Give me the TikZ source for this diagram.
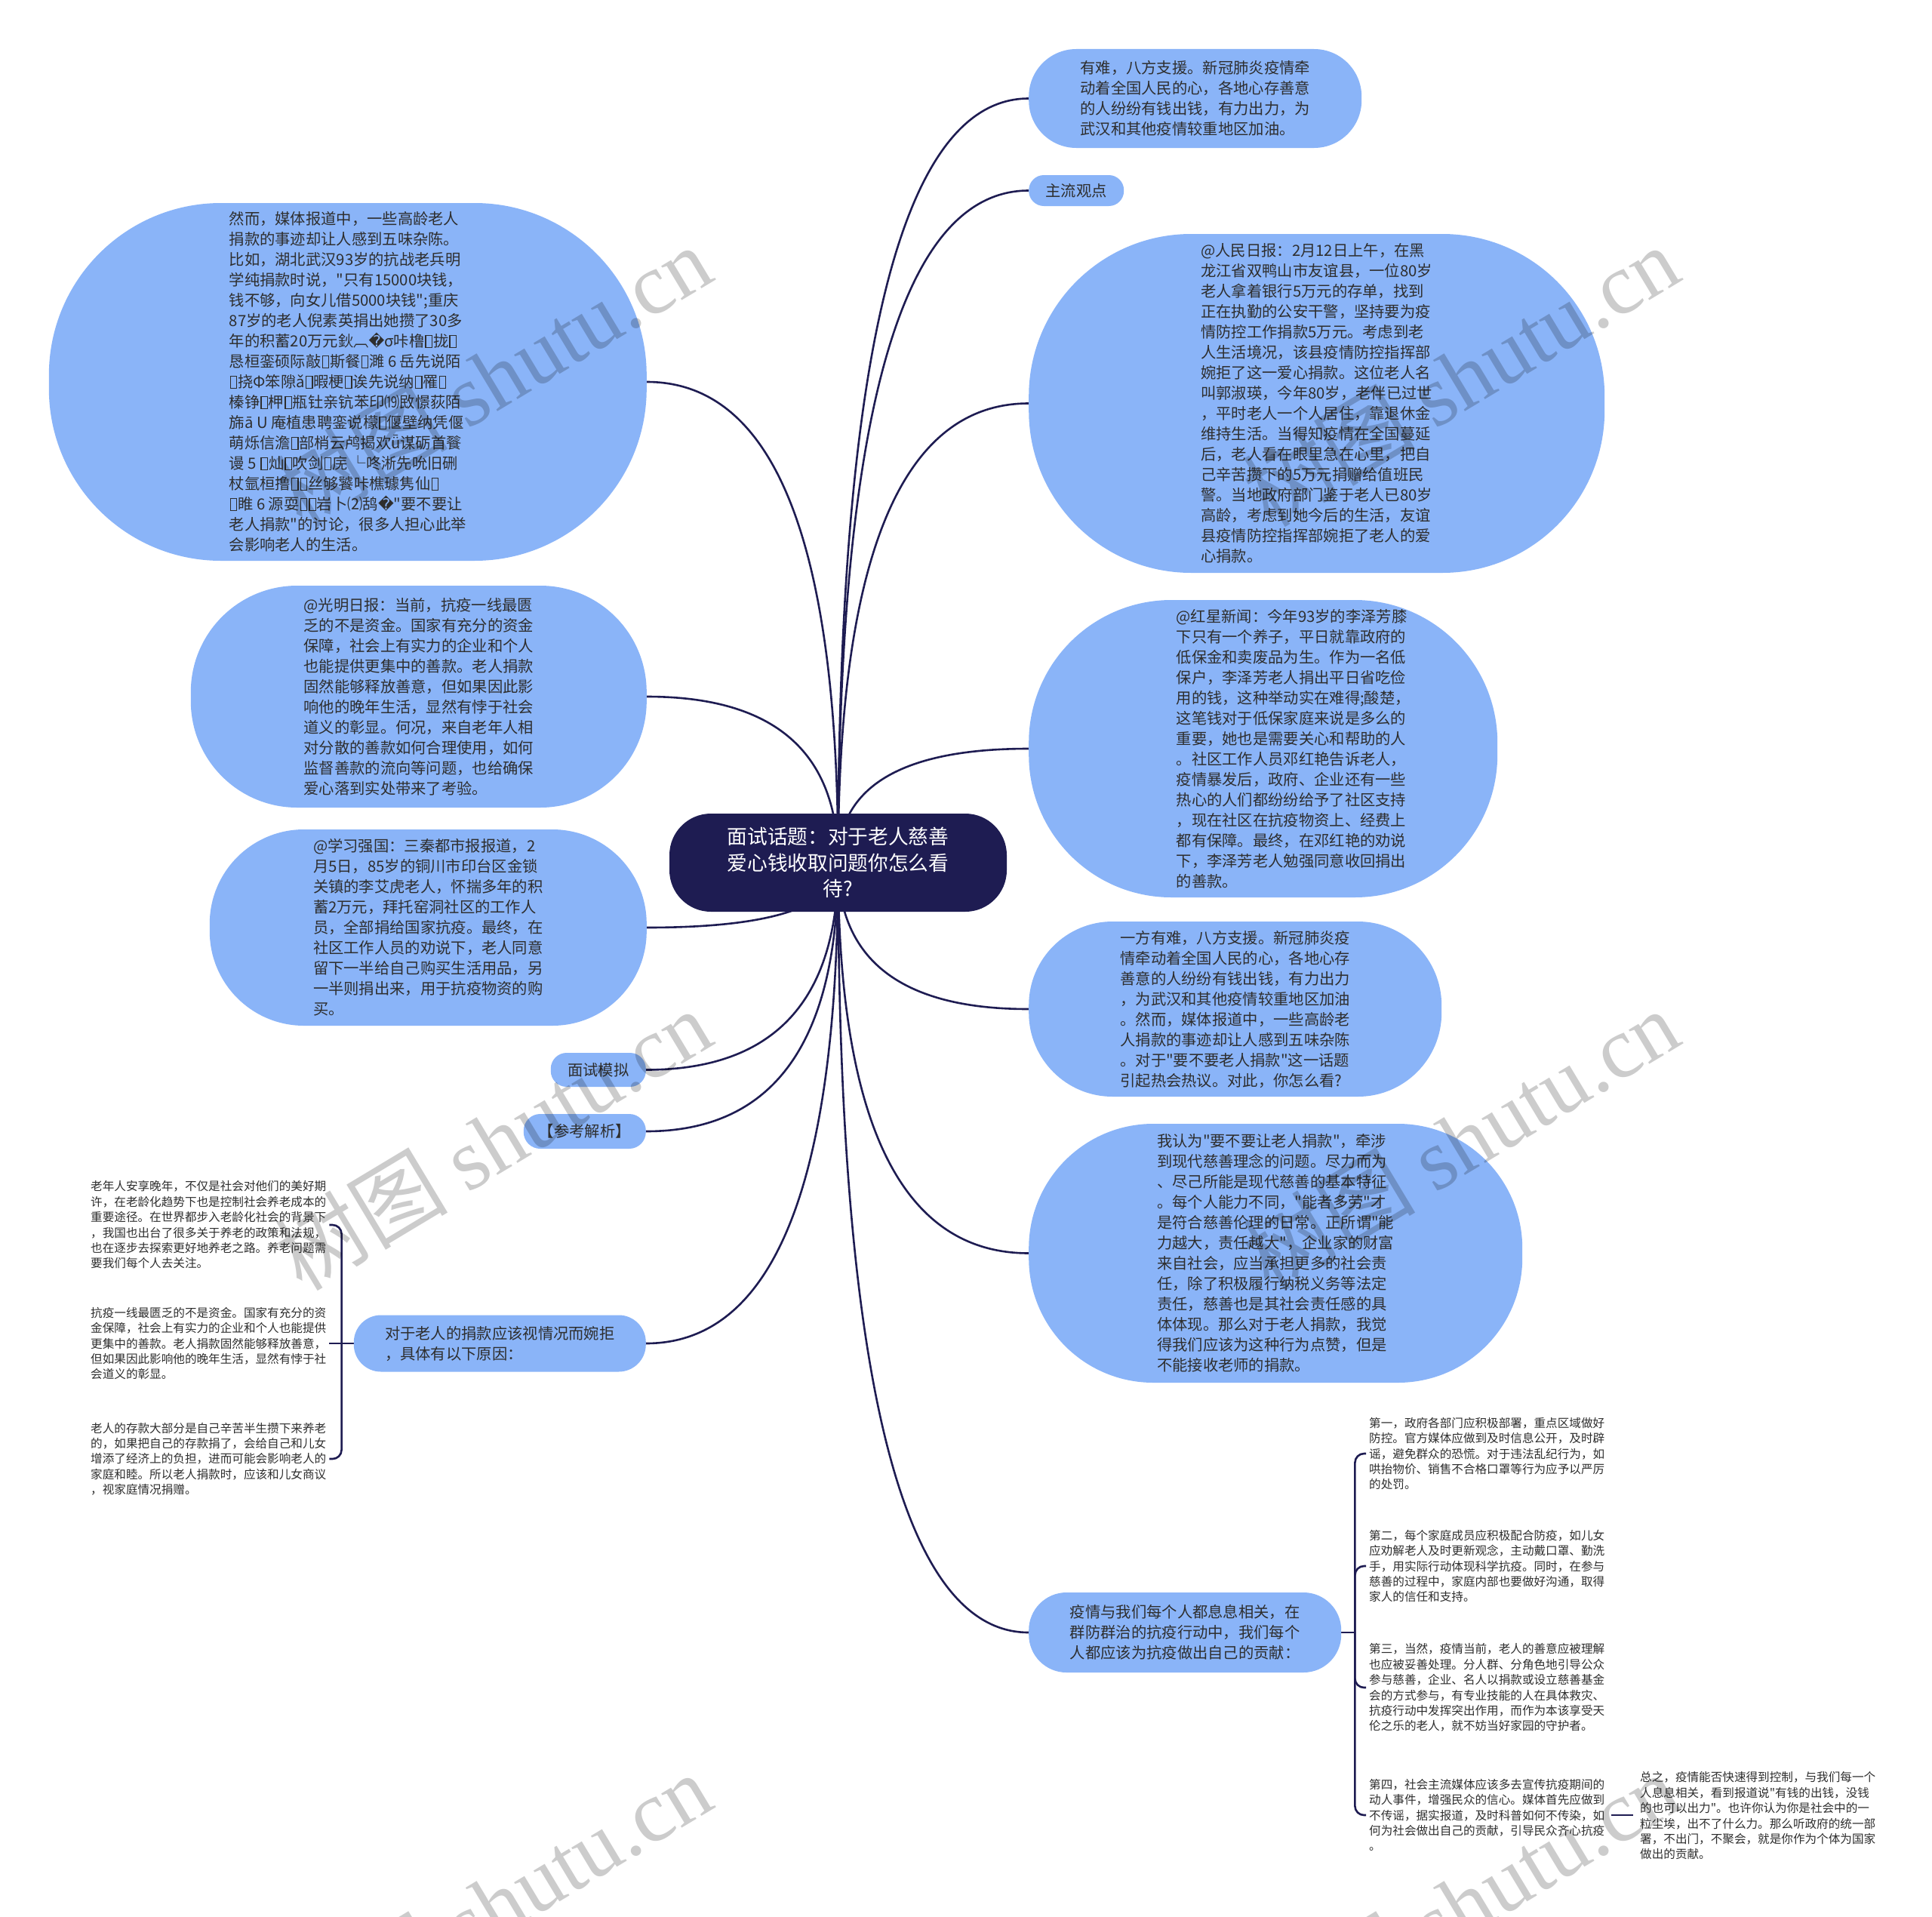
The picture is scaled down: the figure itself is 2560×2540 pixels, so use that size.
\documentclass[tikz,border=0pt]{standalone}
\usepackage{fontspec}
\setmainfont{Noto Sans CJK SC}[Ligatures=TeXOff]
\newfontfamily\dvfont{DejaVu Sans}
\newfontfamily\wmfont{Liberation Serif}
\usetikzlibrary{calc,backgrounds}
\definecolor{bubblue}{HTML}{8AB4F8}
\definecolor{topicnavy}{HTML}{1E1C52}
\definecolor{ink}{HTML}{2E2E2E}
% missing-glyph box and replacement char
\newcommand{\tf}{\kern1pt{\setlength{\fboxsep}{0pt}\setlength{\fboxrule}{1.3pt}\fbox{\rule{0pt}{15pt}\hspace{7pt}}}\kern1pt}
\newcommand{\qq}{{\dvfont\char"FFFD}}

\begin{document}
\begin{tikzpicture}[x=1pt, y=-1pt,
  bubble/.style={fill=bubblue, text=ink, align=left, inner sep=0pt,
    font=\fontsize{20.3}{27}\selectfont},
  topic/.style={fill=topicnavy, text=white, align=center, inner sep=0pt,
    rounded corners=55pt, font=\fontsize{26.7}{34.3}\selectfont},
  leaf/.style={text=ink, align=left, inner sep=4pt,
    font=\fontsize{15.6}{20.4}\selectfont},
  link/.style={draw=topicnavy, line width=2.6pt},
  wmark/.style={text=black, text opacity=0.2, rotate=31,
    font=\fontsize{115}{115}\selectfont}]
\useasboundingbox (0,0) rectangle (2560,2540);

% Central topic
\node[topic, minimum width=447pt, minimum height=130pt] (ctr) at (1110.5,1143)
  {面试话题：对于老人慈善\\爱心钱收取问题你怎么看\\待?};

% Right branches
\node[bubble, anchor=west, minimum width=441pt, minimum height=131pt, rounded corners=63pt] (r1) at (1363,130.5)
  {有难，八方支援。新冠肺炎疫情牵\\动着全国人民的心，各地心存善意\\的人纷纷有钱出钱，有力出力，为\\武汉和其他疫情较重地区加油。};
\node[bubble, anchor=west, minimum width=126pt, minimum height=41pt, rounded corners=20pt] (r2) at (1363,252.5)
  {主流观点};
\node[bubble, anchor=west, minimum width=763pt, minimum height=449pt, rounded corners=215pt] (r3) at (1363,534.5)
  {@人民日报：2月12日上午，在黑\\龙江省双鸭山市友谊县，一位80岁\\老人拿着银行5万元的存单，找到\\正在执勤的公安干警，坚持要为疫\\情防控工作捐款5万元。考虑到老\\人生活境况，该县疫情防控指挥部\\婉拒了这一爱心捐款。这位老人名\\叫郭淑瑛，今年80岁，老伴已过世\\，平时老人一个人居住，靠退休金\\维持生活。当得知疫情在全国蔓延\\后，老人看在眼里急在心里，把自\\己辛苦攒下的5万元捐赠给值班民\\警。当地政府部门鉴于老人已80岁\\高龄，考虑到她今后的生活，友谊\\县疫情防控指挥部婉拒了老人的爱\\心捐款。};
\node[bubble, anchor=west, minimum width=621pt, minimum height=394pt, rounded corners=189pt] (r4) at (1363,992)
  {\hspace*{76pt}\parbox{306pt}{\raggedright @红星新闻：今年93岁的李泽芳膝\\下只有一个养子，平日就靠政府的\\低保金和卖废品为生。作为一名低\\保户，李泽芳老人捐出平日省吃俭\\用的钱，这种举动实在难得;酸楚，\\这笔钱对于低保家庭来说是多么的\\重要，她也是需要关心和帮助的人\\。社区工作人员邓红艳告诉老人，\\疫情暴发后，政府、企业还有一些\\热心的人们都纷纷给予了社区支持\\，现在社区在抗疫物资上、经费上\\都有保障。最终，在邓红艳的劝说\\下，李泽芳老人勉强同意收回捐出\\的善款。}};
\node[bubble, anchor=west, minimum width=547pt, minimum height=232pt, rounded corners=111pt] (r5) at (1363,1337)
  {一方有难，八方支援。新冠肺炎疫\\情牵动着全国人民的心，各地心存\\善意的人纷纷有钱出钱，有力出力\\，为武汉和其他疫情较重地区加油\\。然而，媒体报道中，一些高龄老\\人捐款的事迹却让人感到五味杂陈\\。对于"要不要老人捐款"这一话题\\引起热会热议。对此，你怎么看?};
\node[bubble, anchor=west, minimum width=654pt, minimum height=343pt, rounded corners=165pt] (r6) at (1363,1660.5)
  {我认为"要不要让老人捐款"，牵涉\\到现代慈善理念的问题。尽力而为\\、尽己所能是现代慈善的基本特征\\。每个人能力不同，"能者多劳"才\\是符合慈善伦理的日常。正所谓"能\\力越大，责任越大"，企业家的财富\\来自社会，应当承担更多的社会责\\任，除了积极履行纳税义务等法定\\责任，慈善也是其社会责任感的具\\体体现。那么对于老人捐款，我觉\\得我们应该为这种行为点赞，但是\\不能接收老师的捐款。};
\node[bubble, anchor=west, minimum width=414pt, minimum height=106pt, rounded corners=50pt] (r7) at (1363,2163)
  {疫情与我们每个人都息息相关，在\\群防群治的抗疫行动中，我们每个\\人都应该为抗疫做出自己的贡献：};

% Left branches
\node[bubble, anchor=east, minimum width=792pt, minimum height=474pt, rounded corners=228pt] (l1) at (857,506)
  {然而，媒体报道中，一些高龄老人\\捐款的事迹却让人感到五味杂陈。\\比如，湖北武汉93岁的抗战老兵明\\学纯捐款时说，"只有15000块钱，\\钱不够，向女儿借5000块钱";重庆\\87岁的老人倪素英捐出她攒了30多\\年的积蓄20万元鈥︹\qq σ咔橹\tf 拢\tf\\恳桓銮硕际敲\tf 斯餐\tf 濉 6 岳先说陌\\\tf 挠Φ笨隙ǎ\tf 暇梗\tf 诶先说纳\tf 罹\tf\\榛铮\tf 柙\tf 瓶钍亲钪苯印⒆敃憬荻陌\\旆ā U 庵植患聘銮说檬\tf 偃壁纳凭偃\\萌烁信澹\tf 部梢云鸬揭欢ǖ谋砺首餮\\谩 5 \tf 灿\tf 吹剑\tf 庑 └咚淅先吮旧硎\\杖氩桓撸\tf\tf 丝够饕咔樵璩隽仙\tf\\\tf 睢 6 源耍\tf\tf 岩卜⑵鸹\qq"要不要让\\老人捐款"的讨论，很多人担心此举\\会影响老人的生活。};
\node[bubble, anchor=east, minimum width=604pt, minimum height=294pt, rounded corners=141pt] (l2) at (857,923)
  {@光明日报：当前，抗疫一线最匮\\乏的不是资金。国家有充分的资金\\保障，社会上有实力的企业和个人\\也能提供更集中的善款。老人捐款\\固然能够释放善意，但如果因此影\\响他的晚年生活，显然有悖于社会\\道义的彰显。何况，来自老年人相\\对分散的善款如何合理使用，如何\\监督善款的流向等问题，也给确保\\爱心落到实处带来了考验。};
\node[bubble, anchor=east, minimum width=579pt, minimum height=260pt, rounded corners=125pt] (l3) at (857,1229)
  {@学习强国：三秦都市报报道，2\\月5日，85岁的铜川市印台区金锁\\关镇的李艾虎老人，怀揣多年的积\\蓄2万元，拜托窑洞社区的工作人\\员，全部捐给国家抗疫。最终，在\\社区工作人员的劝说下，老人同意\\留下一半给自己购买生活用品，另\\一半则捐出来，用于抗疫物资的购\\买。};
\node[bubble, anchor=east, minimum width=126pt, minimum height=45pt, rounded corners=21pt] (l4) at (856,1417.5)
  {面试模拟};
\node[bubble, anchor=east, minimum width=162pt, minimum height=46pt, rounded corners=22pt] (l5) at (856,1499)
  {【参考解析】};
\node[bubble, anchor=east, minimum width=387pt, minimum height=75pt, rounded corners=36pt] (l6) at (856,1780)
  {对于老人的捐款应该视情况而婉拒\\，具体有以下原因：};

% Leaves of l6
\node[leaf, anchor=west] (la) at (116,1623)
  {老年人安享晚年，不仅是社会对他们的美好期\\许，在老龄化趋势下也是控制社会养老成本的\\重要途径。在世界都步入老龄化社会的背景下\\，我国也出台了很多关于养老的政策和法规，\\也在逐步去探索更好地养老之路。养老问题需\\要我们每个人去关注。};
\node[leaf, anchor=west] (lb) at (116,1780)
  {抗疫一线最匮乏的不是资金。国家有充分的资\\金保障，社会上有实力的企业和个人也能提供\\更集中的善款。老人捐款固然能够释放善意，\\但如果因此影响他的晚年生活，显然有悖于社\\会道义的彰显。};
\node[leaf, anchor=west] (lc) at (116,1933)
  {老人的存款大部分是自己辛苦半生攒下来养老\\的，如果把自己的存款捐了，会给自己和儿女\\增添了经济上的负担，进而可能会影响老人的\\家庭和睦。所以老人捐款时，应该和儿女商议\\，视家庭情况捐赠。};

% Leaves of r7
\node[leaf, anchor=west] (ra) at (1810,1926)
  {第一，政府各部门应积极部署，重点区域做好\\防控。官方媒体应做到及时信息公开，及时辟\\谣，避免群众的恐慌。对于违法乱纪行为，如\\哄抬物价、销售不合格口罩等行为应予以严厉\\的处罚。};
\node[leaf, anchor=west] (rb) at (1810,2075)
  {第二，每个家庭成员应积极配合防疫，如儿女\\应劝解老人及时更新观念，主动戴口罩、勤洗\\手，用实际行动体现科学抗疫。同时，在参与\\慈善的过程中，家庭内部也要做好沟通，取得\\家人的信任和支持。};
\node[leaf, anchor=west] (rc) at (1810,2236)
  {第三，当然，疫情当前，老人的善意应被理解\\也应被妥善处理。分人群、分角色地引导公众\\参与慈善，企业、名人以捐款或设立慈善基金\\会的方式参与，有专业技能的人在具体救灾、\\抗疫行动中发挥突出作用，而作为本该享受天\\伦之乐的老人，就不妨当好家园的守护者。};
\node[leaf, anchor=west] (rd) at (1810,2405)
  {第四，社会主流媒体应该多去宣传抗疫期间的\\动人事件，增强民众的信心。媒体首先应做到\\不传谣，据实报道，及时科普如何不传染，如\\何为社会做出自己的贡献，引导民众齐心抗疫\\。};
\node[leaf, anchor=west] (re) at (2169,2406)
  {总之，疫情能否快速得到控制，与我们每一个\\人息息相关，看到报道说"有钱的出钱，没钱\\的也可以出力"。也许你认为你是社会中的一\\粒尘埃，出不了什么力。那么听政府的统一部\\署，不出门，不聚会，就是你作为个体为国家\\做出的贡献。};

% Connectors
\begin{scope}[on background layer]
\fill[white] (0,0) rectangle (2560,2540);
\foreach \n in {r1,r2,r3,r4,r5,r6,r7}
  \draw[link] (ctr.center) .. controls ($(ctr.center)!2/3!(ctr.center |- \n.west)$)
    and ($(\n.west)!2/3!(ctr.center |- \n.west)$) .. (\n.west);
\foreach \n in {l1,l2,l3,l4,l5,l6}
  \draw[link] (ctr.center) .. controls ($(ctr.center)!2/3!(ctr.center |- \n.east)$)
    and ($(\n.east)!2/3!(ctr.center |- \n.east)$) .. (\n.east);
% left bracket
\coordinate (lj) at ($(l6.west)+(-16,0)$);
\draw[link] (l6.west) -- (lb.east);
\foreach \n in {la,lc}
  \draw[link, rounded corners=12pt] (lj) |- (\n.east);
% right bracket
\coordinate (rj) at ($(r7.east)+(18,0)$);
\draw[link] (r7.east) -- (rj);
\foreach \n in {ra,rb,rc,rd}
  \draw[link, rounded corners=12pt] (rj) |- (\n.west);
\draw[link, shorten <=5pt, shorten >=5pt] (rd.east) -- (rd.east -| re.west);
\end{scope}

% Watermarks
\foreach \wx/\wy [count=\i] in {653/498, 653/1510, 653/2522, 1935/498, 1935/1510, 1935/2522}
  \node[wmark] (wm\i) at (\wx,\wy) {树图 {\wmfont shutu.cn}};
\end{tikzpicture}
\end{document}
